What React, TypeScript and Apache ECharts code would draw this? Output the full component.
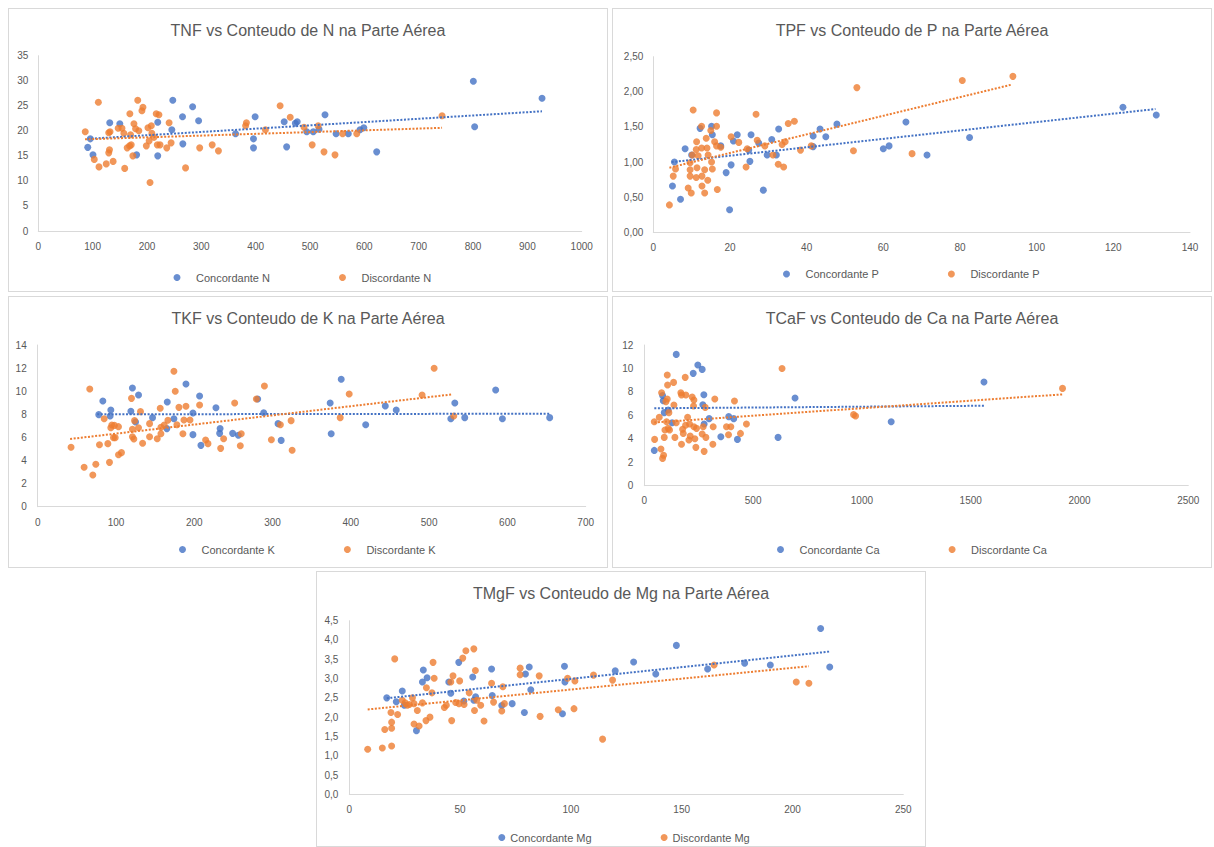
import React, { useEffect, useRef } from "react";
import * as echarts from "echarts";

// ---------- Data ----------
const nConc: number[][] = [[91,16.7],[95.7,18.4],[100.6,15.2],[131.5,21.6],[150,21.4],[180.9,15.2],[219.8,21.7],[219.8,15.0],[247.5,26.1],[245.7,20.2],[265.4,22.8],[266,17.4],[284,24.8],[295,22.0],[363,19.4],[396,18.4],[396,16.6],[399,22.8],[452.5,21.8],[457,16.8],[473,21.5],[476.5,21.8],[494,19.8],[506,19.8],[516.6,20.3],[527.6,23.2],[548,19.4],[570.5,19.4],[592,20.2],[599,20.6],[622.7,15.8],[800.6,29.9],[803,20.8],[927,26.5]];
const nDisc: number[][] = [[86.4,19.8],[110.5,25.7],[103,14.3],[111.7,12.8],[125,13.4],[137.7,13.9],[131,16.2],[129.6,15.6],[129.6,19.6],[132,19.8],[147,20.5],[154,20.5],[159,12.5],[157.4,19.5],[163.6,16.6],[168,17.0],[171,17.2],[168.5,23.4],[174,15.0],[176,21.4],[179,20.4],[169.8,19.2],[183,26.1],[185,20.0],[190.7,24.0],[192.6,24.7],[198.8,17.0],[201.8,20.6],[204,18.0],[205.6,9.7],[208,21.0],[209,19.5],[213,18.7],[217,23.4],[222,23.2],[219,17.2],[224,17.2],[236.4,16.6],[240.7,21.6],[244.4,17.6],[271,12.6],[297,16.6],[320,17.2],[331.5,16.0],[381.5,21.0],[383,21.6],[418,20.2],[445,25.0],[463.6,22.7],[489,20.7],[504,17.2],[515,21.0],[525.8,15.8],[546,15.2],[560,19.4],[586,19.4],[743,23.0]];
const nTrendConc: number[][] = [[91,18.4],[927,23.9]];
const nTrendDisc: number[][] = [[86,18.3],[743,20.6]];

const pConc: number[][] = [[5.0,0.66],[5.5,1.00],[7.1,0.47],[8.3,1.19],[10,1.10],[12.2,1.48],[15.2,1.51],[15.4,1.39],[17.6,1.23],[19,0.85],[19.9,0.32],[20.3,0.96],[20.9,1.30],[21.9,1.39],[24.9,1.17],[25.2,1.01],[25.5,1.39],[27.5,1.27],[28.7,0.60],[29.7,1.10],[30.9,1.32],[32.1,1.10],[32.7,1.47],[41.7,1.37],[41.7,1.22],[43.5,1.47],[45,1.36],[47.9,1.54],[60,1.19],[61.5,1.23],[65.9,1.57],[71.4,1.10],[82.5,1.35],[122.5,1.78],[131.2,1.67]];
const pDisc: number[][] = [[4.2,0.39],[5.2,0.80],[5.8,0.90],[9.1,0.63],[9.9,0.56],[9.6,0.80],[9.6,0.89],[9.6,0.99],[10.4,1.74],[10.2,1.10],[11.3,1.29],[11.2,1.18],[11.4,0.92],[11.2,0.78],[11.7,1.09],[12.6,1.51],[12.6,1.20],[12.7,0.80],[12.7,0.66],[13.4,0.89],[13.4,0.56],[13.8,1.34],[14,1.20],[14.3,1.10],[14.2,0.74],[15,1.45],[15.2,1.00],[15.4,0.90],[16,1.29],[16.5,1.51],[16.5,1.70],[16.7,0.61],[16.5,1.23],[17.6,1.21],[20.3,1.36],[22.3,1.28],[24.2,0.93],[24.5,1.19],[26.8,1.68],[27.1,1.31],[29.1,1.23],[31.2,1.10],[32.6,0.97],[34,0.93],[33.6,1.25],[34.4,1.29],[35.2,1.55],[36.8,1.58],[38.4,1.17],[41.2,1.23],[52.2,1.16],[53.1,2.06],[67.5,1.12],[80.6,2.16],[93.8,2.22]];
const pTrendConc: number[][] = [[4.8,1.0],[131,1.755]];
const pTrendDisc: number[][] = [[4.2,0.92],[93.3,2.10]];

const kConc: number[][] = [[78,7.97],[83.2,9.15],[92.5,7.85],[93.4,8.37],[119,8.26],[121,10.28],[125,7.33],[128.8,9.67],[146.7,7.71],[165,6.76],[165.5,9.06],[174,7.62],[189.4,10.62],[198.3,8.11],[198.3,6.24],[206.8,9.58],[208.5,5.31],[227.7,8.57],[232.4,6.35],[233,6.76],[249,6.35],[256.3,6.18],[281,9.32],[288.7,8.14],[307,7.19],[311,5.74],[373.6,8.98],[387.7,11.03],[374.9,6.32],[419,7.10],[444,8.72],[458,8.37],[527.7,7.62],[532.8,8.98],[545.5,7.71],[585,10.10],[593.6,7.62],[654,7.71]];
const kDisc: number[][] = [[42.6,5.14],[59.3,3.41],[66.5,10.19],[70.4,2.74],[74.2,3.67],[78.9,5.37],[84.9,7.62],[89.6,5.46],[91.7,3.84],[93.4,6.84],[94.7,7.07],[98,7.04],[96.8,5.98],[99,5.98],[103.2,6.93],[103.2,4.50],[107,4.68],[119.8,9.38],[121,6.70],[121,6.06],[122.8,5.86],[123.7,7.45],[128.8,6.84],[131.3,8.23],[134,5.49],[142.9,7.19],[142.9,6.06],[152.7,5.89],[156.5,8.52],[157.4,6.87],[157.4,6.32],[161.6,7.07],[166.3,7.48],[174,11.72],[175.7,9.99],[177.8,7.10],[180.4,8.60],[185.5,6.32],[186.8,7.51],[189.4,8.69],[194.5,7.51],[206.8,8.80],[214.5,5.77],[217.5,5.46],[233.7,5.05],[237.5,5.89],[251.6,8.98],[258.8,5.28],[260,6.32],[279.3,9.32],[289.6,10.45],[298.5,5.80],[310,7.10],[323.7,7.45],[325,4.88],[386.4,7.71],[397.9,9.76],[491,9.67],[506.4,11.98],[531.5,7.85]];
const kTrendConc: number[][] = [[76,8.0],[654,8.05]];
const kTrendDisc: number[][] = [[41.4,5.86],[530,9.73]];

const caConc: number[][] = [[45.9,3.01],[87,7.25],[84,7.7],[91.7,6.23],[110,6.45],[128,5.37],[146.8,11.2],[224.8,9.58],[246,10.29],[266,9.92],[273.7,7.76],[269,6.91],[275,5.26],[298,5.72],[351.7,4.18],[388,5.89],[411,5.72],[428,3.95],[614.7,4.12],[692.7,7.48],[1134.6,5.46],[1561,8.84]];
const caDisc: number[][] = [[47.4,3.95],[45.9,5.46],[76.5,3.13],[79.5,7.93],[84,2.33],[88.7,2.59],[68.8,5.83],[91.7,4.12],[94.8,4.75],[99.4,7.17],[102.4,5.46],[105.5,7.39],[105.5,9.44],[107,8.59],[110,4.89],[113,6.23],[116,4.75],[134.6,8.81],[136,6.88],[140.7,4.12],[146.8,5.37],[168,7.93],[171,7.73],[171,3.53],[176,4.81],[179,4.46],[188,9.24],[191,7.73],[189.6,5.15],[199,5.83],[205,3.90],[208,5.26],[211,4.24],[220,7.56],[228,7.31],[226.3,6.80],[228,5.03],[232.4,4.01],[240,4.89],[237,3.27],[266,4.41],[270.6,5.03],[275,2.93],[280,6.68],[283,4.12],[315,3.53],[316.5,5.03],[324,7.39],[377.7,5.03],[387,4.35],[397.6,5.03],[414.4,7.22],[442,4.46],[469.4,5.26],[633,10.0],[961.8,6.06],[971,5.94],[1922,8.30]];
const caTrendConc: number[][] = [[46,6.6],[1561,6.82]];
const caTrendDisc: number[][] = [[46,5.39],[1922,7.79]];

const mgConc: number[][] = [[16.9,2.50],[21.2,2.40],[23.9,2.68],[24.8,2.31],[30.3,1.65],[33,2.91],[33.4,3.22],[35.1,3.02],[44.9,2.91],[45.8,2.62],[49.4,3.42],[51.7,2.42],[55.7,3.04],[56.2,2.44],[57,2.53],[64.2,3.25],[64.5,2.56],[68.8,2.30],[73.5,2.35],[79,2.12],[79.5,3.12],[81.2,3.30],[81.9,2.71],[96.2,2.09],[97.1,3.32],[97.3,2.91],[120,3.20],[128.3,3.43],[138.3,3.12],[147.6,3.86],[161.7,3.25],[178.4,3.40],[190,3.35],[212.7,4.30],[216.8,3.30]];
const mgDisc: number[][] = [[8.3,1.17],[14.9,1.20],[16,1.68],[19.1,1.25],[19.1,1.71],[19.1,1.87],[18.8,2.12],[20.5,3.51],[21.8,2.07],[23.9,2.44],[25.2,2.37],[26.2,2.31],[27.1,2.33],[28.5,2.50],[29.2,2.35],[29.2,1.82],[30.7,2.17],[31.5,1.77],[33,2.37],[34.6,1.91],[34.8,2.76],[36.4,2.00],[37.3,2.63],[37.8,3.42],[38.3,3.01],[42.9,2.25],[43.8,2.31],[45.8,2.91],[46.2,1.91],[46.8,3.07],[48,2.38],[49.5,2.35],[49.8,2.94],[51.2,3.53],[51.8,2.33],[52.6,3.72],[54.1,2.63],[56.2,3.77],[56.5,2.17],[56.9,3.21],[57.5,2.44],[59.3,2.31],[60.8,1.90],[64.2,2.88],[65.1,2.39],[68.8,2.16],[69.3,2.79],[70,2.35],[77.1,3.27],[77.1,3.10],[85.7,3.07],[86.1,2.02],[94.3,2.19],[98.5,3.01],[101.4,2.22],[101.8,2.94],[110.2,3.09],[114.3,1.43],[118.8,2.96],[164.6,3.35],[201.7,2.91],[207.4,2.88]];
const mgTrendConc: number[][] = [[16.9,2.49],[216.8,3.70]];
const mgTrendDisc: number[][] = [[8.3,2.20],[207.4,3.32]];

// ---------- Layout / style ----------
const BLUE = "#4472C4";
const ORANGE = "#ED7D31";
const TXT = "#595959";
const FONT = "Liberation Sans, Arial, sans-serif";

type Panel = {
  title: string;
  nameC: string;
  nameD: string;
  conc: number[][];
  disc: number[][];
  trendC: number[][];
  trendD: number[][];
  box: number[]; // left, top, width, height (incl. border)
  grid: { left: number; right: number; top: number; bottom: number };
  xMax: number; xInt: number;
  yMax: number; yInt: number; yDec: number;
  xMargin: number; yMargin: number;
  legendLeft: number; legendTop: number; legendGap: number; legendPad: number;
};

const panels: Panel[] = [
  {
    title: "TNF vs Conteudo de N na Parte Aérea", nameC: "Concordante N", nameD: "Discordante N",
    conc: nConc, disc: nDisc, trendC: nTrendConc, trendD: nTrendDisc,
    box: [8, 8, 600, 284], grid: { left: 29.3, right: 25.3, top: 46.7, bottom: 60 },
    xMax: 1000, xInt: 100, yMax: 35, yInt: 5, yDec: 0, xMargin: 10, yMargin: 10,
    legendLeft: 164.5, legendTop: 263, legendGap: 69, legendPad: 10.5,
  },
  {
    title: "TPF vs Conteudo de P na Parte Aérea", nameC: "Concordante P", nameD: "Discordante P",
    conc: pConc, disc: pDisc, trendC: pTrendConc, trendD: pTrendDisc,
    box: [612, 8, 600, 284], grid: { left: 40.3, right: 21, top: 47.7, bottom: 58.7 },
    xMax: 140, xInt: 20, yMax: 2.5, yInt: 0.5, yDec: 2, xMargin: 10, yMargin: 10,
    legendLeft: 170, legendTop: 259.5, legendGap: 69, legendPad: 10.5,
  },
  {
    title: "TKF vs Conteudo de K na Parte Aérea", nameC: "Concordante K", nameD: "Discordante K",
    conc: kConc, disc: kDisc, trendC: kTrendConc, trendD: kTrendDisc,
    box: [8, 296, 600, 272], grid: { left: 28.7, right: 21.3, top: 48, bottom: 60.3 },
    xMax: 700, xInt: 100, yMax: 14, yInt: 2, yDec: 0, xMargin: 11, yMargin: 11,
    legendLeft: 170, legendTop: 247, legendGap: 69, legendPad: 10.5,
  },
  {
    title: "TCaF vs Conteudo de Ca na Parte Aérea", nameC: "Concordante Ca", nameD: "Discordante Ca",
    conc: caConc, disc: caDisc, trendC: caTrendConc, trendD: caTrendDisc,
    box: [612, 296, 600, 272], grid: { left: 31.3, right: 22.7, top: 48, bottom: 81.3 },
    xMax: 2500, xInt: 500, yMax: 12, yInt: 2, yDec: 0, xMargin: 10, yMargin: 11,
    legendLeft: 164, legendTop: 247, legendGap: 69, legendPad: 10.5,
  },
  {
    title: "TMgF vs Conteudo de Mg na Parte Aérea", nameC: "Concordante Mg", nameD: "Discordante Mg",
    conc: mgConc, disc: mgDisc, trendC: mgTrendConc, trendD: mgTrendDisc,
    box: [316, 571, 610, 276], grid: { left: 32.3, right: 21.7, top: 48.7, bottom: 51.7 },
    xMax: 250, xInt: 50, yMax: 4.5, yInt: 0.5, yDec: 1, xMargin: 10, yMargin: 11,
    legendLeft: 181.3, legendTop: 260, legendGap: 69, legendPad: 0,
  },
];

function fmt(v: number, dec: number) {
  return dec === 0 ? String(Math.round(v)) : v.toFixed(dec).replace(".", ",");
}

function buildOption(p: Panel): any {
  const axisLine = { show: true, lineStyle: { color: "#d9d9d9", width: 1 } };
  const trendStyle = (c: string) => ({ color: c, width: 2, type: [2, 1.6] as any });
  return {
    animation: false,
    backgroundColor: "#fff",
    textStyle: { fontFamily: FONT },
    title: {
      text: p.title, left: "center", top: 13, padding: 0,
      textStyle: { fontSize: 16, fontWeight: "normal", color: TXT, fontFamily: FONT },
    },
    legend: {
      data: [p.nameC, p.nameD],
      left: p.legendLeft, top: p.legendTop, padding: 0,
      itemGap: p.legendGap, itemWidth: 7, itemHeight: 7, icon: "circle",
      textStyle: { fontSize: 11, color: TXT, fontFamily: FONT, padding: [0, 0, 0, p.legendPad] },
    },
    grid: { ...p.grid, containLabel: false },
    xAxis: {
      type: "value", min: 0, max: p.xMax, interval: p.xInt,
      axisLine, axisTick: { show: false }, splitLine: { show: false },
      axisLabel: { color: TXT, fontSize: 10, margin: p.xMargin, fontFamily: FONT, formatter: (v: number) => String(v) },
    },
    yAxis: {
      type: "value", min: 0, max: p.yMax, interval: p.yInt,
      axisLine, axisTick: { show: false }, splitLine: { show: false },
      axisLabel: { color: TXT, fontSize: 10, margin: p.yMargin, fontFamily: FONT, formatter: (v: number) => fmt(v, p.yDec) },
    },
    series: [
      { name: p.nameC, type: "scatter", data: p.conc, symbolSize: 7, itemStyle: { color: BLUE } },
      { name: p.nameD, type: "scatter", data: p.disc, symbolSize: 7, itemStyle: { color: ORANGE } },
      { name: p.nameC + " tendência", type: "line", data: p.trendC, showSymbol: false, symbol: "none", lineStyle: trendStyle(BLUE), itemStyle: { color: BLUE }, silent: true, z: 3 },
      { name: p.nameD + " tendência", type: "line", data: p.trendD, showSymbol: false, symbol: "none", lineStyle: trendStyle(ORANGE), itemStyle: { color: ORANGE }, silent: true, z: 3 },
    ],
  };
}

function ChartPanel({ p }: { p: Panel }) {
  const ref = useRef<HTMLDivElement>(null);
  useEffect(() => {
    if (!ref.current) return;
    const chart = echarts.init(ref.current, undefined, { renderer: "svg" });
    chart.setOption(buildOption(p));
    return () => chart.dispose();
  }, [p]);
  const [l, t, w, h] = p.box;
  return (
    <div style={{ position: "absolute", left: l, top: t, width: w - 2, height: h - 2, border: "1px solid #d9d9d9", background: "#fff" }}>
      <div ref={ref} style={{ width: w - 2, height: h - 2 }} />
    </div>
  );
}

export default function App() {
  return (
    <div style={{ position: "absolute", left: 0, top: 0, width: 1214, height: 847, background: "#fff", overflow: "hidden" }}>
      {panels.map((p, i) => (
        <ChartPanel key={i} p={p} />
      ))}
    </div>
  );
}
